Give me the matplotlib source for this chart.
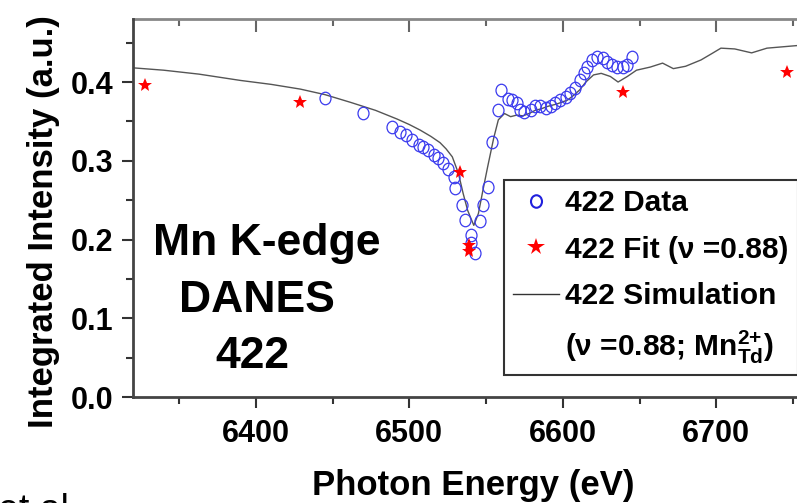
import matplotlib
matplotlib.use("Agg")
import matplotlib.pyplot as plt
from matplotlib.ticker import MultipleLocator, FixedLocator
from matplotlib.markers import MarkerStyle
from matplotlib.transforms import Affine2D
from matplotlib.lines import Line2D

plt.rcParams['font.family'] = ['Liberation Sans', 'DejaVu Sans']
plt.rcParams['font.weight'] = 'bold'
plt.rcParams['mathtext.fontset'] = 'custom'
plt.rcParams['mathtext.rm'] = 'Liberation Sans'
plt.rcParams['mathtext.bf'] = 'Liberation Sans:bold'
plt.rcParams['mathtext.default'] = 'bf'

# measured 422 reflection intensity
data_e = [6445, 6470, 6489, 6494, 6498, 6502, 6506, 6509, 6512, 6516, 6519,
          6522, 6525, 6529, 6530, 6534, 6536, 6540, 6540, 6543, 6546, 6548,
          6551, 6554, 6558, 6560, 6564, 6567, 6570, 6572, 6575, 6579, 6582,
          6585, 6589, 6592, 6595, 6598, 6602, 6605, 6608, 6611, 6614, 6616,
          6619, 6622, 6626, 6629, 6632, 6635, 6639, 6642, 6645]
data_i = [0.380, 0.361, 0.343, 0.337, 0.333, 0.326, 0.320, 0.318, 0.314,
          0.307, 0.303, 0.297, 0.290, 0.280, 0.265, 0.244, 0.225, 0.206,
          0.196, 0.183, 0.223, 0.244, 0.267, 0.324, 0.364, 0.390, 0.379,
          0.377, 0.373, 0.364, 0.362, 0.364, 0.369, 0.369, 0.367, 0.369,
          0.373, 0.377, 0.381, 0.386, 0.392, 0.403, 0.411, 0.419, 0.428,
          0.432, 0.430, 0.426, 0.422, 0.419, 0.419, 0.422, 0.432]

# fitted values
fit_e = [6328, 6429, 6533, 6539, 6539, 6639, 6746]
fit_i = [0.396, 0.375, 0.286, 0.193, 0.185, 0.387, 0.413]

# simulated curve
sim_e = [6320, 6340, 6363, 6390, 6410, 6429, 6445, 6462, 6478, 6492, 6500,
         6507, 6514, 6520, 6524, 6528, 6532, 6535, 6538, 6542, 6545, 6548,
         6551, 6555, 6558, 6562, 6566, 6570, 6574, 6578, 6582, 6586, 6590,
         6596, 6603, 6607, 6611, 6615, 6620, 6625, 6631, 6636, 6642, 6648,
         6657, 6665, 6672, 6680, 6690, 6697, 6703, 6712, 6723, 6733, 6745,
         6763]
sim_i = [0.418, 0.415, 0.410, 0.402, 0.397, 0.391, 0.384, 0.374, 0.364,
         0.353, 0.346, 0.339, 0.331, 0.323, 0.315, 0.305, 0.284, 0.259,
         0.237, 0.218, 0.233, 0.263, 0.292, 0.329, 0.352, 0.360, 0.356,
         0.358, 0.357, 0.360, 0.364, 0.366, 0.369, 0.372, 0.377, 0.383,
         0.390, 0.400, 0.409, 0.411, 0.407, 0.400, 0.407, 0.415, 0.419,
         0.424, 0.417, 0.420, 0.428, 0.436, 0.443, 0.442, 0.437, 0.443,
         0.445, 0.448]

fig = plt.figure(figsize=(7.97, 5.03), dpi=100)
ax = fig.add_axes([0.1669, 0.2107, 0.8532, 0.7515])

oval = MarkerStyle('o', transform=Affine2D().scale(0.88, 1.0))
ax.plot(sim_e, sim_i, color='#555555', lw=1.0, zorder=2)
ax.plot(data_e, data_i, linestyle='none', marker=oval, markersize=9,
        markerfacecolor='none', markeredgecolor='#3a3aee', markeredgewidth=0.9,
        zorder=3)
ax.plot(fit_e, fit_i, linestyle='none', marker='*', markersize=10,
        color='#ff0000', markeredgewidth=0, zorder=4)

ax.set_xlim(6320, 6763)
ax.set_ylim(0, 0.48)
ax.xaxis.set_major_locator(FixedLocator([6400, 6500, 6600, 6700]))
ax.xaxis.set_minor_locator(MultipleLocator(50))
ax.yaxis.set_major_locator(MultipleLocator(0.1))
ax.yaxis.set_minor_locator(MultipleLocator(0.05))
ax.yaxis.set_major_formatter(lambda v, p: f'{v:.1f}')

ax.tick_params(which='both', direction='out', width=1.5, colors='#333333',
               labelcolor='black', labelsize=22, pad=6)
ax.tick_params(which='major', length=8)
ax.tick_params(which='minor', length=5)
ax.tick_params(axis='x', pad=8)

for side in ['left', 'bottom']:
    ax.spines[side].set_linewidth(2.0)
    ax.spines[side].set_color('#444444')
ax.spines['right'].set_visible(False)
ax.spines['top'].set_visible(False)

top = ax.secondary_xaxis('top')
top.xaxis.set_major_locator(FixedLocator([6400, 6500, 6600, 6700]))
top.xaxis.set_minor_locator(MultipleLocator(50))
top.tick_params(which='both', direction='in', width=1.5, colors='#666666',
                labeltop=False)
top.tick_params(which='major', length=9)
top.tick_params(which='minor', length=5)
top.spines['top'].set_linewidth(2.0)
top.spines['top'].set_color('#888888')

fig.text(473 / 797, 1 - 495 / 503, 'Photon Energy (eV)', fontsize=25,
         ha='center', va='baseline')
fig.text(44 / 797, 1 - 222 / 503, 'Integrated Intensity (a.u.)', fontsize=25,
         rotation=90, ha='center', va='center')

ax.text(0.197, 0.376, 'Mn K-edge', transform=ax.transAxes, fontsize=32,
        ha='center', va='baseline')
ax.text(0.182, 0.225, 'DANES', transform=ax.transAxes, fontsize=32,
        ha='center', va='baseline')
ax.text(0.175, 0.077, '422', transform=ax.transAxes, fontsize=32,
        ha='center', va='baseline')

handles = [
    Line2D([], [], linestyle='none', marker=oval, markersize=9,
           markerfacecolor='none', markeredgecolor='#2020dd', markeredgewidth=1.5),
    Line2D([], [], linestyle='none', marker='*', markersize=13,
           color='#ff0000', markeredgewidth=0),
    Line2D([], [], color='#333333', lw=1.0),
    Line2D([], [], linestyle='none'),
]
labels = ['422 Data', '422 Fit (ν =0.88)', '422 Simulation',
          r'(ν =0.88; Mn$^{2{+}}_{\mathrm{Td}}$)']
leg = ax.legend(handles, labels, loc='upper left', bbox_to_anchor=(0.5456, 0.574),
                borderaxespad=0, fontsize=21.5, frameon=True, fancybox=False,
                edgecolor='black', handlelength=1.55, handletextpad=0.2,
                borderpad=0.3, labelspacing=0.62)
leg.get_frame().set_linewidth(1.5)

fig.text(-0.002, -18 / 503, 'et al.', fontsize=27, fontweight='normal',
         ha='left', va='baseline')

fig.savefig('out.png', dpi=100)
